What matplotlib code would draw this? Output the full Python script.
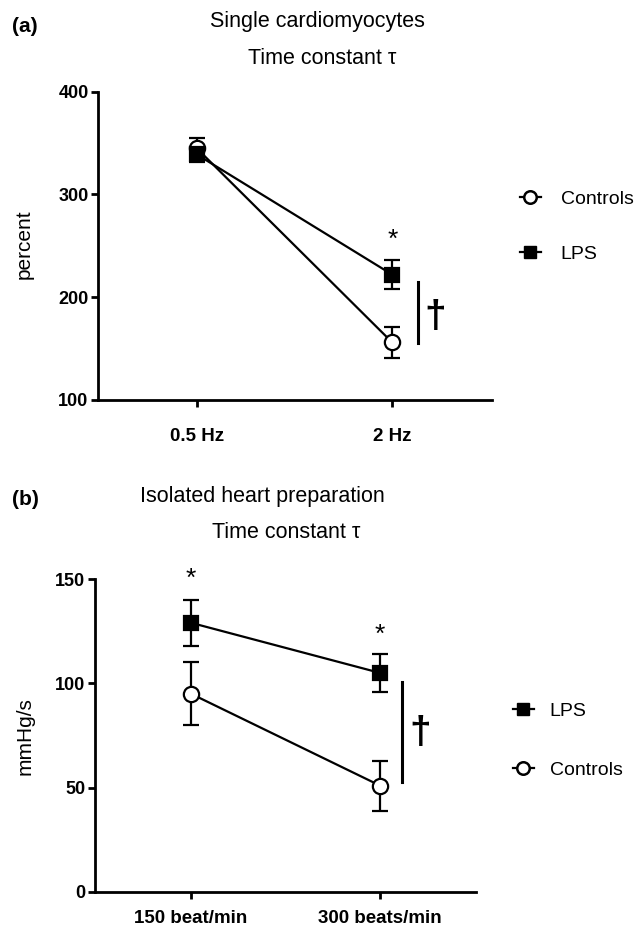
import numpy as np
import matplotlib.pyplot as plt
from matplotlib.lines import Line2D

plt.rcParams['font.family'] = ['Liberation Sans', 'DejaVu Sans']

# --- data: panel (a) single cardiomyocytes ---
freq_labels = ['0.5 Hz', '2 Hz']
ctrl_a = [345, 156]
ctrl_a_sem = [10, 15]
lps_a = [339, 222]
lps_a_sem = [7, 14]

# --- data: panel (b) isolated heart ---
rate_labels = ['150 beat/min', '300 beats/min']
lps_b = [129, 105]
lps_b_sem = [11, 9]
ctrl_b = [95, 51]
ctrl_b_sem = [15, 12]

W, H = 635, 926
fig = plt.figure(figsize=(W / 100, H / 100), dpi=100)


def fx(px):
    return px / W


def fy(py):
    return 1 - py / H


def style_axes(ax, xlabels, pad):
    for s in ['top', 'right']:
        ax.spines[s].set_visible(False)
    for s in ['left', 'bottom']:
        ax.spines[s].set_linewidth(2)
    ax.set_xticks([0, 1])
    ax.set_xticklabels(xlabels, fontweight='bold', fontsize=13.5)
    ax.tick_params(axis='x', length=5, width=2, pad=pad)
    ax.tick_params(axis='y', length=5, width=2, pad=2, labelsize=13)
    for t in ax.get_yticklabels():
        t.set_fontweight('bold')


def draw_series(ax, y, err, marker, face):
    x = np.arange(len(y))
    ax.errorbar(x, y, yerr=err, color='black', lw=1.6, elinewidth=1.6,
                capsize=6, capthick=1.6, marker=marker, ms=11 if marker == 'o' else 10.5,
                mfc=face, mec='black', mew=1.6, zorder=3, clip_on=False)


def legend_handles(names):
    hs = []
    for n in names:
        if n == 'Controls':
            hs.append(Line2D([], [], color='black', lw=1.6, marker='o', ms=9,
                             mfc='white', mec='black', mew=1.8, label=n))
        else:
            hs.append(Line2D([], [], color='black', lw=1.6, marker='s', ms=8.5,
                             mfc='black', mec='black', label=n))
    return hs


# --- panel (a) ---
ax1 = fig.add_axes([fx(98.3), fy(400), fx(492 - 98.3), (400 - 91.7) / H])
draw_series(ax1, ctrl_a, ctrl_a_sem, 'o', 'white')
draw_series(ax1, lps_a, lps_a_sem, 's', 'black')
ax1.set_xlim(-0.503, 1.51)
ax1.set_ylim(100, 400)
ax1.set_yticks([100, 200, 300, 400])
style_axes(ax1, freq_labels, 15)
ax1.text(1, 249, '*', ha='center', va='baseline', fontsize=19)
ax1.plot([1.131, 1.131], [155, 215], color='black', lw=2.2)
ax1.text(1.218, 181, '\u2020', ha='center', va='center', fontsize=28, fontweight='bold')
leg1 = ax1.legend(handles=legend_handles(['Controls', 'LPS']), frameon=False,
                  loc='center left', bbox_to_anchor=(fx(510), fy(226.5)),
                  bbox_transform=fig.transFigure, fontsize=14,
                  handlelength=1.1, handletextpad=1.0, labelspacing=1.9, borderpad=0)

fig.text(fx(12), fy(26), '(a)', fontsize=15, fontweight='bold', va='center')
fig.text(fx(317), fy(22), 'Single cardiomyocytes', fontsize=15.5, ha='center', va='center')
fig.text(fx(322), fy(58), 'Time constant \u03c4', fontsize=15.5, ha='center', va='center')
fig.text(fx(24), fy(244), 'percent', fontsize=15, rotation=90, ha='center', va='center')

# --- panel (b) ---
ax2 = fig.add_axes([fx(95), fy(892), fx(476 - 95), (892 - 579) / H])
draw_series(ax2, lps_b, lps_b_sem, 's', 'black')
draw_series(ax2, ctrl_b, ctrl_b_sem, 'o', 'white')
ax2.set_xlim(-0.508, 1.508)
ax2.set_ylim(0, 150)
ax2.set_yticks([0, 50, 100, 150])
style_axes(ax2, rate_labels, 8)
ax2.text(0, 146.8, '*', ha='center', va='baseline', fontsize=19, clip_on=False)
ax2.text(1, 119.8, '*', ha='center', va='baseline', fontsize=19)
ax2.plot([1.116, 1.116], [52.8, 100.6], color='black', lw=2.2)
ax2.text(1.212, 76, '\u2020', ha='center', va='center', fontsize=28, fontweight='bold')
leg2 = ax2.legend(handles=legend_handles(['LPS', 'Controls']), frameon=False,
                  loc='center left', bbox_to_anchor=(fx(503), fy(740.5)),
                  bbox_transform=fig.transFigure, fontsize=14,
                  handlelength=1.1, handletextpad=0.8, labelspacing=2.1, borderpad=0)

fig.text(fx(12), fy(500), '(b)', fontsize=15, fontweight='bold', va='center')
fig.text(fx(262), fy(496), 'Isolated heart preparation', fontsize=15.5, ha='center', va='center')
fig.text(fx(286), fy(533), 'Time constant \u03c4', fontsize=15.5, ha='center', va='center')
fig.text(fx(25), fy(736), 'mmHg/s', fontsize=15, rotation=90, ha='center', va='center')

fig.savefig('out.png', dpi=100)
